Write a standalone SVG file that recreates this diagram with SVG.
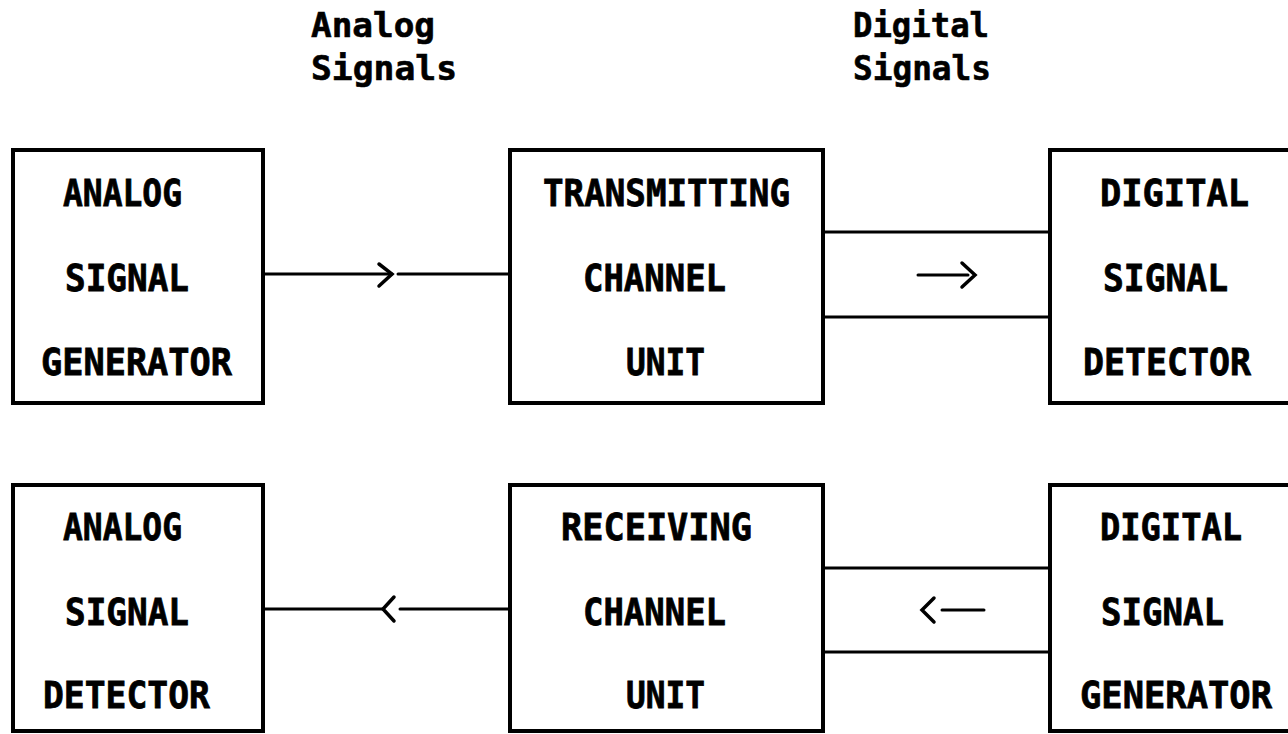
<svg xmlns="http://www.w3.org/2000/svg" width="1288" height="734" viewBox="0 0 1288 734">
  <style>
    .box { fill: #fff; stroke: #000; stroke-width: 4; }
    .lbl { font-family: "DejaVu Sans Mono", "Liberation Mono", monospace; font-weight: bold; font-size: 38px; fill: #000; stroke: #000; stroke-width: 0.8; }
    .hdr { font-family: "DejaVu Sans Mono", "Liberation Mono", monospace; font-weight: bold; font-size: 33px; fill: #000; stroke: #000; stroke-width: 0.6; }
    .wire { fill: none; stroke: #000; stroke-width: 3; stroke-linecap: round; stroke-linejoin: round; }
    .head { fill: none; stroke: #000; stroke-width: 3.5; stroke-linecap: round; stroke-linejoin: miter; }
  </style>
  <rect width="1288" height="734" fill="#fff"/>

  <!-- column headings -->
  <g id="heading-analog">
    <text class="hdr" x="311" y="37" textLength="124" lengthAdjust="spacingAndGlyphs">Analog</text>
    <text class="hdr" x="311" y="80" textLength="146" lengthAdjust="spacingAndGlyphs">Signals</text>
  </g>
  <g id="heading-digital">
    <text class="hdr" x="853" y="37" textLength="136" lengthAdjust="spacingAndGlyphs">Digital</text>
    <text class="hdr" x="853" y="80" textLength="138" lengthAdjust="spacingAndGlyphs">Signals</text>
  </g>

  <!-- connectors -->
  <g id="connectors">
    <!-- analog generator to transmitting unit -->
    <path class="wire" d="M263 274 H392 M398 274 H510"/>
    <path class="head" d="M379 264 L392 274 L379 286"/>
    <!-- transmitting unit to digital detector (twin lines) -->
    <path class="wire" d="M823 232 H1050 M823 317 H1050"/>
    <path class="wire" d="M918 275 H968"/>
    <path class="head" d="M962 263 L975 275 L962 287"/>
    <!-- receiving unit to analog detector -->
    <path class="wire" d="M263 609 H383 M400 609 H510"/>
    <path class="head" d="M394 597 L383 609 L394 621"/>
    <!-- digital generator to receiving unit (twin lines) -->
    <path class="wire" d="M823 568 H1050 M823 652 H1050"/>
    <path class="wire" d="M942 610 H984"/>
    <path class="head" d="M934 598 L922 610 L934 622"/>
  </g>

  <!-- top row -->
  <g id="analog-signal-generator">
    <rect class="box" x="13" y="150" width="250" height="253"/>
    <text class="lbl" x="63" y="206" textLength="119" lengthAdjust="spacingAndGlyphs">ANALOG</text>
    <text class="lbl" x="65" y="291" textLength="124" lengthAdjust="spacingAndGlyphs">SIGNAL</text>
    <text class="lbl" x="41" y="375" textLength="191" lengthAdjust="spacingAndGlyphs">GENERATOR</text>
  </g>
  <g id="transmitting-channel-unit">
    <rect class="box" x="510" y="150" width="313" height="253"/>
    <text class="lbl" x="543" y="206" textLength="247" lengthAdjust="spacingAndGlyphs">TRANSMITTING</text>
    <text class="lbl" x="583" y="291" textLength="143" lengthAdjust="spacingAndGlyphs">CHANNEL</text>
    <text class="lbl" x="626" y="375" textLength="79" lengthAdjust="spacingAndGlyphs">UNIT</text>
  </g>
  <g id="digital-signal-detector">
    <rect class="box" x="1050" y="150" width="260" height="253"/>
    <text class="lbl" x="1100" y="206" textLength="149" lengthAdjust="spacingAndGlyphs">DIGITAL</text>
    <text class="lbl" x="1103" y="291" textLength="125" lengthAdjust="spacingAndGlyphs">SIGNAL</text>
    <text class="lbl" x="1083" y="375" textLength="168" lengthAdjust="spacingAndGlyphs">DETECTOR</text>
  </g>

  <!-- bottom row -->
  <g id="analog-signal-detector">
    <rect class="box" x="13" y="485" width="250" height="246"/>
    <text class="lbl" x="63" y="540" textLength="119" lengthAdjust="spacingAndGlyphs">ANALOG</text>
    <text class="lbl" x="65" y="625" textLength="124" lengthAdjust="spacingAndGlyphs">SIGNAL</text>
    <text class="lbl" x="43" y="708" textLength="167" lengthAdjust="spacingAndGlyphs">DETECTOR</text>
  </g>
  <g id="receiving-channel-unit">
    <rect class="box" x="510" y="485" width="313" height="246"/>
    <text class="lbl" x="561" y="540" textLength="191" lengthAdjust="spacingAndGlyphs">RECEIVING</text>
    <text class="lbl" x="583" y="625" textLength="143" lengthAdjust="spacingAndGlyphs">CHANNEL</text>
    <text class="lbl" x="626" y="708" textLength="79" lengthAdjust="spacingAndGlyphs">UNIT</text>
  </g>
  <g id="digital-signal-generator">
    <rect class="box" x="1050" y="485" width="260" height="246"/>
    <text class="lbl" x="1100" y="540" textLength="142" lengthAdjust="spacingAndGlyphs">DIGITAL</text>
    <text class="lbl" x="1101" y="625" textLength="123" lengthAdjust="spacingAndGlyphs">SIGNAL</text>
    <text class="lbl" x="1080" y="708" textLength="192" lengthAdjust="spacingAndGlyphs">GENERATOR</text>
  </g>
</svg>
